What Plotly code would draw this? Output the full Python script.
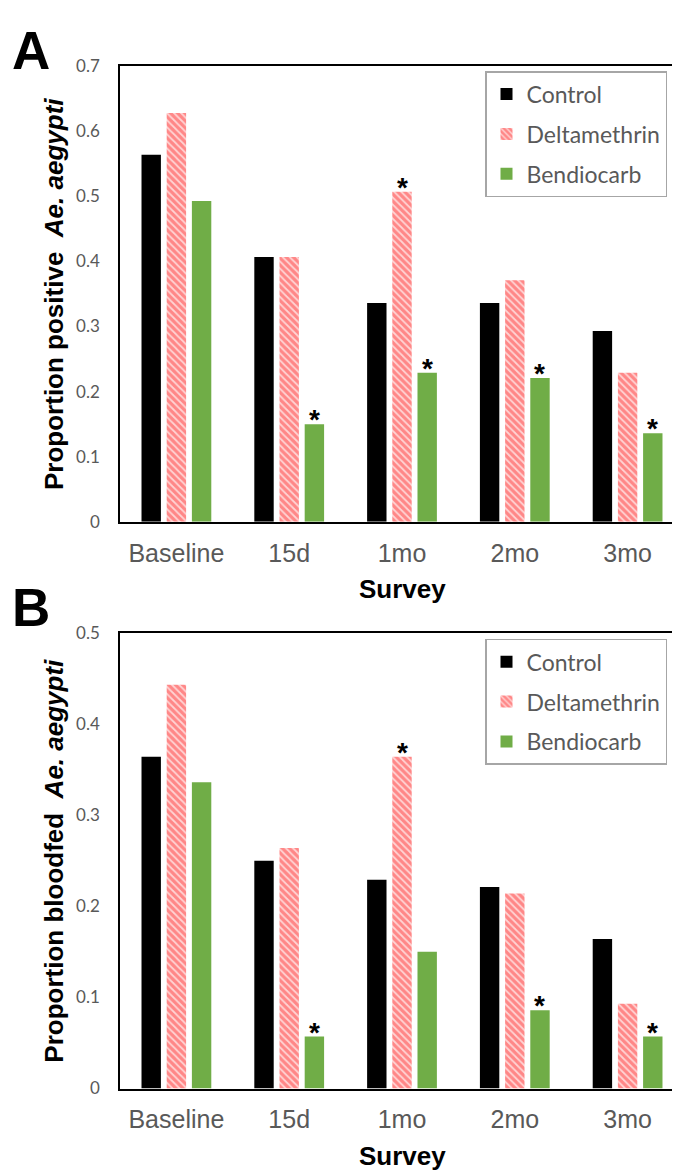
import plotly.graph_objects as go

surveys = ["Baseline", "15d", "1mo", "2mo", "3mo"]
series_names = ["Control", "Deltamethrin", "Bendiocarb"]

# Panel A: proportion positive
pos_control = [0.564, 0.407, 0.336, 0.336, 0.293]
pos_delta = [0.628, 0.407, 0.507, 0.371, 0.229]
pos_bendio = [0.493, 0.150, 0.229, 0.221, 0.136]

# Panel B: proportion bloodfed
bf_control = [0.364, 0.250, 0.229, 0.221, 0.164]
bf_delta = [0.443, 0.264, 0.364, 0.214, 0.093]
bf_bendio = [0.336, 0.057, 0.150, 0.086, 0.057]

# significance markers (survey, series)
sig_A = [("15d", "Bendiocarb"), ("1mo", "Deltamethrin"), ("1mo", "Bendiocarb"),
         ("2mo", "Bendiocarb"), ("3mo", "Bendiocarb")]
sig_B = [("15d", "Bendiocarb"), ("1mo", "Deltamethrin"), ("2mo", "Bendiocarb"),
         ("3mo", "Bendiocarb")]

W, H = 680, 1175
PL, PR = 112, 676
A_top, A_bot = 48, 512
B_top, B_bot = 625, 1089

def py(y):
    return 1 - y / H

markers = {
    "Control": dict(color="#000000", line=dict(width=0)),
    "Deltamethrin": dict(color="#FF8C8C", line=dict(width=0),
                         pattern=dict(shape="\\", fgcolor="#FFD4D4", bgcolor="#FF8787",
                                      size=5, solidity=0.35, fillmode="replace")),
    "Bendiocarb": dict(color="#70AD47", line=dict(width=0)),
}

fig = go.Figure()
dataA = {"Control": pos_control, "Deltamethrin": pos_delta, "Bendiocarb": pos_bendio}
dataB = {"Control": bf_control, "Deltamethrin": bf_delta, "Bendiocarb": bf_bendio}

for name in series_names:
    fig.add_trace(go.Bar(x=surveys, y=dataA[name], name=name, marker=markers[name],
                         xaxis="x", yaxis="y", legend="legend", legendgroup="A" + name))
for name in series_names:
    fig.add_trace(go.Bar(x=surveys, y=dataB[name], name=name, marker=markers[name],
                         xaxis="x2", yaxis="y2", legend="legend2", legendgroup="B" + name))

bargap = 0.33
slot_px = (PR - PL) / len(surveys) * (1 - bargap) / 3
offsets = {"Control": -slot_px, "Deltamethrin": 0, "Bendiocarb": slot_px}

annotations = []
for sig, data, xr, yr in [(sig_A, dataA, "x", "y"), (sig_B, dataB, "x2", "y2")]:
    for cat, ser in sig:
        val = data[ser][surveys.index(cat)]
        annotations.append(dict(x=cat, y=val, xref=xr, yref=yr, text="<b>*</b>",
                                showarrow=False, xshift=offsets[ser], yanchor="bottom",
                                yshift=-13, font=dict(family="Liberation Sans", size=28, color="black")))

title_font = dict(family="Liberation Sans", size=26, color="black")
survey_font = dict(family="Liberation Sans", size=26, color="black")
annotations += [
    dict(x=46 / W, y=(py(A_top) + py(A_bot)) / 2, xref="paper", yref="paper",
         text="<b>Proportion positive  <i>Ae. aegypti</i></b>", textangle=-90,
         showarrow=False, font=title_font, xanchor="center", yanchor="middle"),
    dict(x=46 / W, y=(py(B_top) + py(B_bot)) / 2, xref="paper", yref="paper",
         text="<b>Proportion bloodfed  <i>Ae. aegypti</i></b>", textangle=-90,
         showarrow=False, font=title_font, xanchor="center", yanchor="middle"),
    dict(x=(PL + PR) / 2 / W, y=py(580), xref="paper", yref="paper", text="<b>Survey</b>",
         showarrow=False, font=survey_font, xanchor="center", yanchor="middle"),
    dict(x=(PL + PR) / 2 / W, y=py(1158), xref="paper", yref="paper", text="<b>Survey</b>",
         showarrow=False, font=survey_font, xanchor="center", yanchor="middle"),
    dict(x=2 / W, y=py(0), xref="paper", yref="paper", text="<b>A</b>", showarrow=False,
         font=dict(family="Liberation Sans", size=53, color="black"), xanchor="left", yanchor="top"),
    dict(x=2 / W, y=py(567), xref="paper", yref="paper", text="<b>B</b>", showarrow=False,
         font=dict(family="Liberation Sans", size=53, color="black"), xanchor="left", yanchor="top"),
]

xax = dict(domain=[PL / W, PR / W], showline=True, linecolor="black", linewidth=1.5,
           mirror=True, ticks="", showgrid=False, ticklabelstandoff=8,
           tickfont=dict(family="Liberation Sans", size=25, color="#595959"))
yax = dict(showline=True, linecolor="black", linewidth=1.5, mirror=True, ticks="",
           showgrid=False, zeroline=False, dtick=0.1,
           tickfont=dict(family="Lato", size=17, color="#595959"), ticklabelstandoff=15)

legend_style = dict(bgcolor="white", bordercolor="#A6A6A6", borderwidth=1.5,
                    font=dict(family="Lato", size=23, color="#595959"),
                    xanchor="left", yanchor="top", itemwidth=30, tracegroupgap=7,
                    traceorder="grouped")

fig.update_layout(
    width=W, height=H, margin=dict(l=0, r=0, t=0, b=0),
    plot_bgcolor="white", paper_bgcolor="white",
    barmode="group", bargap=bargap, bargroupgap=0.23,
    xaxis=dict(xax, anchor="y"),
    yaxis=dict(yax, domain=[py(A_bot), py(A_top)], range=[0, 0.7], anchor="x"),
    xaxis2=dict(xax, anchor="y2"),
    yaxis2=dict(yax, domain=[py(B_bot), py(B_top)], range=[0, 0.5], anchor="x2"),
    legend=dict(legend_style, x=477 / W, y=py(53)),
    legend2=dict(legend_style, x=477 / W, y=py(631)),
    annotations=annotations,
    showlegend=True,
)

fig.write_html("out.html")
